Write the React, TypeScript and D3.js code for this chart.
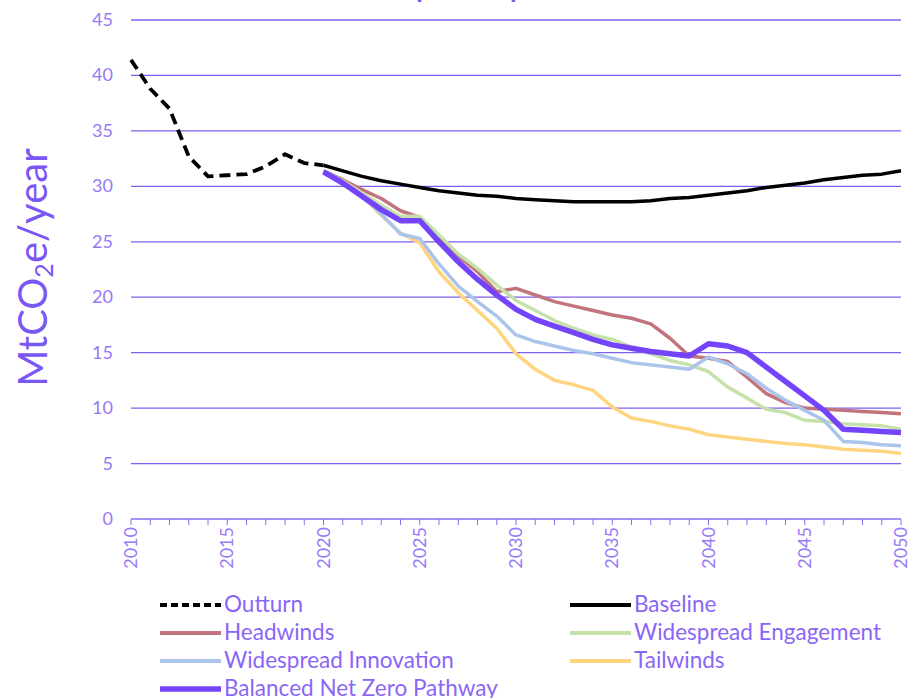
import React from 'react';
import * as d3 from 'd3';

// x categories
const outturnYears = [2010, 2011, 2012, 2013, 2014, 2015, 2016, 2017, 2018, 2019, 2020];
const scenarioYears = [
  2020, 2021, 2022, 2023, 2024, 2025, 2026, 2027, 2028, 2029, 2030,
  2031, 2032, 2033, 2034, 2035, 2036, 2037, 2038, 2039, 2040,
  2041, 2042, 2043, 2044, 2045, 2046, 2047, 2048, 2049, 2050,
];

// series values (MtCO2e/year)
const outturn = [41.4, 38.8, 37.0, 32.7, 30.9, 31.0, 31.1, 31.8, 32.9, 32.1, 31.9];
const baseline = [
  31.9, 31.4, 30.9, 30.5, 30.2, 29.9, 29.6, 29.4, 29.2, 29.1, 28.9,
  28.8, 28.7, 28.6, 28.6, 28.6, 28.6, 28.7, 28.9, 29.0, 29.2,
  29.4, 29.6, 29.9, 30.1, 30.3, 30.6, 30.8, 31.0, 31.1, 31.4,
];
const headwinds = [
  31.4, 30.6, 29.7, 28.9, 27.8, 27.2, 25.3, 23.7, 22.3, 20.5, 20.8,
  20.2, 19.6, 19.2, 18.8, 18.4, 18.1, 17.6, 16.3, 14.7, 14.5,
  14.2, 12.8, 11.3, 10.5, 10.0, 9.9, 9.8, 9.7, 9.6, 9.5,
];
const engagement = [
  31.4, 30.5, 29.4, 28.3, 27.3, 27.3, 25.6, 23.9, 22.6, 21.1, 19.7,
  18.8, 17.9, 17.2, 16.6, 16.2, 15.5, 14.9, 14.3, 13.9, 13.3,
  11.9, 10.9, 9.9, 9.6, 8.9, 8.8, 8.6, 8.5, 8.4, 8.1,
];
const innovation = [
  31.4, 30.4, 29.2, 27.5, 25.7, 25.3, 23.0, 21.0, 19.6, 18.3, 16.6,
  16.0, 15.6, 15.2, 14.9, 14.5, 14.1, 13.9, 13.7, 13.5, 14.6,
  14.0, 13.1, 11.8, 10.7, 9.8, 8.9, 7.0, 6.9, 6.7, 6.6,
];
const tailwinds = [
  31.4, 30.4, 29.2, 27.4, 25.8, 24.9, 22.3, 20.4, 18.8, 17.2, 14.9,
  13.5, 12.5, 12.1, 11.6, 10.1, 9.1, 8.8, 8.4, 8.1, 7.6,
  7.4, 7.2, 7.0, 6.8, 6.7, 6.5, 6.3, 6.2, 6.1, 5.9,
];
const balanced = [
  31.3, 30.3, 29.1, 27.9, 26.9, 26.9, 25.0, 23.2, 21.6, 20.2, 18.9,
  18.0, 17.4, 16.8, 16.2, 15.7, 15.4, 15.1, 14.9, 14.7, 15.8,
  15.6, 15.0, 13.7, 12.4, 11.1, 9.8, 8.1, 8.0, 7.9, 7.8,
];

// ticks
const yTicks = [0, 5, 10, 15, 20, 25, 30, 35, 40, 45];
const xLabels = [2010, 2015, 2020, 2025, 2030, 2035, 2040, 2045, 2050];

const FONT = 'Lato, "DejaVu Sans", sans-serif';
const PURPLE = '#7b57f5';
const LABEL = '#9679f7';

const W = 910;
const H = 698;
const left = 131;
const right = 901;
const top = 20;
const bottom = 519;

type Series = {
  name: string;
  years: number[];
  values: number[];
  color: string;
  width: number;
  dash?: string;
};

const series: Series[] = [
  { name: 'Outturn', years: outturnYears, values: outturn, color: '#000', width: 3.8, dash: '11 6' },
  { name: 'Baseline', years: scenarioYears, values: baseline, color: '#000', width: 3.5 },
  { name: 'Headwinds', years: scenarioYears, values: headwinds, color: '#c2747c', width: 3.5 },
  { name: 'Widespread Engagement', years: scenarioYears, values: engagement, color: '#c6e1aa', width: 3.5 },
  { name: 'Tailwinds', years: scenarioYears, values: tailwinds, color: '#ffd47f', width: 3.5 },
  { name: 'Widespread Innovation', years: scenarioYears, values: innovation, color: '#abc4ec', width: 3.5 },
  { name: 'Balanced Net Zero Pathway', years: scenarioYears, values: balanced, color: '#7444fb', width: 5.5 },
];

const legendOrder = [
  'Outturn', 'Baseline', 'Headwinds', 'Widespread Engagement',
  'Widespread Innovation', 'Tailwinds', 'Balanced Net Zero Pathway',
];

export default function App() {
  const x = d3.scaleLinear().domain([2010, 2050]).range([left, right]);
  const y = d3.scaleLinear().domain([0, 45]).range([bottom, top]);
  const line = (s: Series) =>
    d3.line<number>()
      .x((_, i) => x(s.years[i]))
      .y((v) => y(v))(s.values) || '';

  const allYears = d3.range(2010, 2051);

  return (
    <svg
      width={W}
      height={H}
      style={{ position: 'absolute', left: 0, top: 0, background: '#fff' }}
      fontFamily={FONT}
    >
      {/* title, mostly cut off above the picture */}
      <text x={408} y={-3} textAnchor="end" fontSize={28} fontWeight="bold" fill={PURPLE}>Emissions</text>
      <text x={416} y={-3} fontSize={28} fontWeight="bold" fill={PURPLE}>pathway</text>

      {/* gridlines */}
      {yTicks.filter((t) => t > 0).map((t) => (
        <line key={t} x1={left} x2={right} y1={y(t)} y2={y(t)} stroke="#7e5ff3" strokeWidth={1.3} />
      ))}

      {/* y labels */}
      {yTicks.map((t) => (
        <text key={t} x={113} y={y(t) + 6} textAnchor="end" fontSize={18} fill={LABEL}>{t}</text>
      ))}

      {/* x axis */}
      <line x1={left} x2={right} y1={bottom} y2={bottom} stroke="#8a6cf5" strokeWidth={1.5} />
      {allYears.map((yr) => (
        <line key={yr} x1={x(yr)} x2={x(yr)} y1={bottom} y2={bottom + 6} stroke="#8a6cf5" strokeWidth={1} />
      ))}
      {xLabels.map((yr) => (
        <text
          key={yr}
          transform={`translate(${x(yr) + 6},${bottom + 8}) rotate(-90)`}
          textAnchor="end"
          fontSize={18}
          fill={LABEL}
        >
          {yr}
        </text>
      ))}

      {/* y title */}
      <text
        transform={`translate(47,${(145 + 390) / 2}) rotate(-90)`}
        textAnchor="middle"
        fontSize={40}
        fill={PURPLE}
      >
        MtCO<tspan fontSize={25} dy={6}>2</tspan><tspan dy={-6}>e/year</tspan>
      </text>

      {/* series */}
      {series.map((s) => (
        <path
          key={s.name}
          d={line(s)}
          fill="none"
          stroke={s.color}
          strokeWidth={s.width}
          strokeDasharray={s.dash}
          strokeLinejoin="round"
        />
      ))}

      {/* legend */}
      {legendOrder.map((name, i) => {
        const s = series.find((d) => d.name === name)!;
        const col = i % 2;
        const row = Math.floor(i / 2);
        const lx = col === 0 ? 160 : 570;
        const ly = 605 + row * 28;
        return (
          <g key={name}>
            <line
              x1={lx}
              x2={lx + 61}
              y1={ly}
              y2={ly}
              stroke={s.color}
              strokeWidth={s.name === 'Balanced Net Zero Pathway' ? 5.5 : 4}
              strokeDasharray={s.dash ? '7 4' : undefined}
            />
            <text x={lx + 64} y={ly + 7} fontSize={22.5} fill="#8a66f7">{name}</text>
          </g>
        );
      })}
    </svg>
  );
}
